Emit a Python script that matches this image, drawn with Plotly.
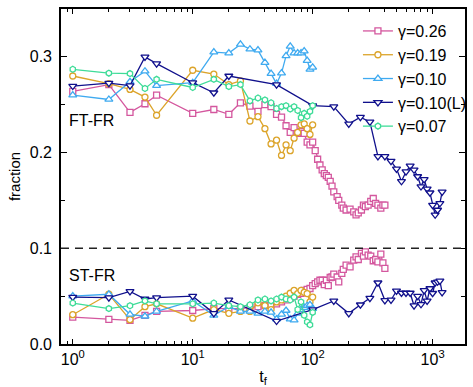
import plotly.graph_objects as go

# ---------------- data ----------------
t_026 = [1, 2, 3, 4, 5, 10, 15, 20, 25, 30, 35, 40, 45, 50, 55, 60, 65, 70, 75, 80, 85, 90, 95, 100,
         105, 110, 115, 120, 125, 130, 135, 140, 145, 150,
         160, 165, 175, 180, 190, 205, 220, 230, 240, 255, 265, 275, 290, 305, 320, 335, 350, 370, 385, 400]
ft_026 = [0.264, 0.271, 0.242, 0.251, 0.260, 0.241, 0.245, 0.240, 0.252, 0.2485, 0.243, 0.250, 0.248, 0.240,
          0.237, 0.228, 0.221, 0.226, 0.220, 0.222, 0.220, 0.211, 0.208, 0.211,
          0.202, 0.193, 0.187, 0.182, 0.178, 0.176, 0.174, 0.170, 0.165, 0.159,
          0.154, 0.150, 0.145, 0.142, 0.140, 0.141, 0.138, 0.135, 0.137, 0.140, 0.145, 0.1435, 0.145, 0.149,
          0.152, 0.147, 0.145, 0.142, 0.145, 0.145]
st_026 = [0.028, 0.0257, 0.0247, 0.030, 0.034, 0.035, 0.037, 0.037, 0.037, 0.038, 0.039, 0.040, 0.041, 0.042,
          0.044, 0.046, 0.048, 0.050, 0.052, 0.053, 0.056, 0.057, 0.058, 0.061,
          0.063, 0.065, 0.0666, 0.0666, 0.062, 0.0666, 0.061, 0.0695, 0.070, 0.073,
          0.070, 0.065, 0.0737, 0.078, 0.0824, 0.0806, 0.0876, 0.091, 0.0883, 0.0946, 0.0918, 0.0963, 0.0929,
          0.0918, 0.087, 0.0883, 0.0858, 0.0939, 0.0848, 0.079]

t_short = [1, 2, 3, 4, 5, 10, 15, 20, 25, 30, 35, 40, 45, 50, 55, 60, 65, 70, 75, 80, 85, 90, 95, 100]
ft_019 = [0.280, 0.272, 0.266, 0.258, 0.239, 0.286, 0.282, 0.271, 0.275, 0.233, 0.2375, 0.225, 0.209, 0.213,
          0.197, 0.208, 0.202, 0.215, 0.221, 0.229, 0.230, 0.225, 0.219, 0.229]
st_019 = [0.0306, 0.052, 0.0254, 0.039, 0.042, 0.027, 0.036, 0.032, 0.034, 0.034, 0.043, 0.040, 0.036, 0.044,
          0.046, 0.050, 0.053, 0.056, 0.0527, 0.056, 0.054, 0.0527, 0.044, 0.049]

ft_010 = [0.260, 0.2555, 0.274, 0.285, 0.270, 0.273, 0.305, 0.304, 0.313, 0.308, 0.307, 0.294, 0.2825, 0.272,
          0.283, 0.301, 0.311, 0.304, 0.304, 0.304, 0.306, 0.296, 0.287, 0.289]
st_010 = [0.050, 0.052, 0.031, 0.029, 0.034, 0.045, 0.030, 0.039, 0.034, 0.034, 0.032, 0.034, 0.033, 0.026,
          0.031, 0.035, 0.026, 0.025, 0.032, 0.036, 0.038, 0.040, 0.041, 0.037]

ft_007 = [0.287, 0.283, 0.2825, 0.267, 0.2765, 0.268, 0.2765, 0.269, 0.271, 0.254, 0.257, 0.255, 0.252, 0.246,
          0.248, 0.249, 0.2455, 0.248, 0.244, 0.2365, 0.241, 0.238, 0.243, 0.249]
st_007 = [0.0428, 0.037, 0.040, 0.045, 0.042, 0.042, 0.0428, 0.040, 0.039, 0.041, 0.046, 0.047, 0.045, 0.047,
          0.049, 0.047, 0.046, 0.049, 0.036, 0.044, 0.030, 0.023, 0.020, 0.033]

t_010L = [1, 2, 3, 4, 5, 10, 15, 20, 50, 100, 150, 200, 250, 300, 350, 400, 450, 500, 550, 600, 650, 700,
          750, 800, 850, 900, 950, 1000, 1050, 1100, 1150, 1200]
ft_010L = [0.2695, 0.2726, 0.270, 0.300, 0.293, 0.273, 0.2625, 0.280, 0.271, 0.249, 0.248, 0.230, 0.237, 0.232,
           0.196, 0.196, 0.191, 0.183, 0.170, 0.180, 0.186, 0.182, 0.175, 0.1645, 0.172, 0.162, 0.158, 0.145,
           0.135, 0.140, 0.147, 0.159]
st_010L = [0.049, 0.0485, 0.055, 0.047, 0.0485, 0.050, 0.032, 0.046, 0.024, 0.036, 0.045, 0.032, 0.041, 0.048,
           0.064, 0.0456, 0.046, 0.0554, 0.0533, 0.0533, 0.0533, 0.040, 0.050, 0.0415, 0.056, 0.045, 0.058,
           0.053, 0.064, 0.065, 0.066, 0.054]

labels = ["\u03b3=0.26", "\u03b3=0.19", "\u03b3=0.10", "\u03b3=0.10(L)", "\u03b3=0.07"]
colors = ["#D4579E", "#DCA42A", "#3FAAF0", "#10108C", "#3EDC98"]
symbols = ["square", "circle", "triangle-up", "triangle-down", "hexagon"]

x_ticks = [1, 10, 100, 1000]
x_ticktext = ["10<sup>0</sup>", "10<sup>1</sup>", "10<sup>2</sup>", "10<sup>3</sup>"]
y_ticks = [0.0, 0.1, 0.2, 0.3]
y_ticktext = ["0.0", "0.1", "0.2", "0.3"]

series = [
    (t_026, ft_026, st_026),
    (t_short, ft_019, st_019),
    (t_short, ft_010, st_010),
    (t_010L, ft_010L, st_010L),
    (t_short, ft_007, st_007),
]

FONT = "Liberation Sans, Arial, sans-serif"

fig = go.Figure()
for (t, ft, st), lab, col, sym in zip(series, labels, colors, symbols):
    xs = list(t) + [None] + list(t)
    ys = list(ft) + [None] + list(st)
    msize = 7 if sym.startswith("triangle") else 6
    fig.add_trace(go.Scatter(
        x=xs, y=ys, name=lab, mode="lines+markers",
        line=dict(color=col, width=1.3),
        marker=dict(symbol=sym, size=msize, color="white", line=dict(color=col, width=1.3)),
        connectgaps=False,
    ))

fig.add_shape(type="line", xref="paper", yref="y", x0=0, x1=1, y0=0.1, y1=0.1,
              line=dict(color="#222222", width=1.5, dash="8px,6px"))

fig.add_annotation(text="FT-FR", xref="paper", yref="y", x=0.016, y=0.233, xanchor="left",
                   showarrow=False, font=dict(size=16, color="black", family=FONT))
fig.add_annotation(text="ST-FR", xref="paper", yref="y", x=0.014, y=0.072, xanchor="left",
                   showarrow=False, font=dict(size=16, color="black", family=FONT))

fig.update_layout(
    width=473, height=387,
    margin=dict(l=61, r=1, t=9, b=43),
    paper_bgcolor="white", plot_bgcolor="white",
    font=dict(family=FONT, size=16, color="black"),
    showlegend=True,
    legend=dict(x=0.735, y=0.985, xanchor="left", yanchor="top", bgcolor="rgba(0,0,0,0)",
                font=dict(size=16, family=FONT), tracegroupgap=0),
)
fig.update_xaxes(
    type="log", range=[-0.098, 3.27],
    tickvals=x_ticks, ticktext=x_ticktext,
    ticks="inside", ticklen=5, tickwidth=1.2, tickcolor="black",
    showline=True, linecolor="black", linewidth=1.6, mirror="ticks",
    showgrid=False, zeroline=False,
    minor=dict(ticks="inside", ticklen=3, tickwidth=1, tickcolor="black", dtick="D1", showgrid=False),
    tickfont=dict(size=16, family=FONT),
    title=dict(text="t<sub>f</sub>", font=dict(size=16, family=FONT), standoff=5),
)
fig.update_yaxes(
    range=[0, 0.35],
    tickvals=y_ticks, ticktext=y_ticktext,
    ticks="inside", ticklen=6, tickwidth=1.2, tickcolor="black",
    showline=True, linecolor="black", linewidth=1.6, mirror="ticks",
    showgrid=False, zeroline=False,
    minor=dict(ticks="inside", ticklen=4, tickwidth=1, tickcolor="black", tickvals=[0.05, 0.15, 0.25], showgrid=False),
    tickfont=dict(size=16, family=FONT),
    ticklabelstandoff=4,
    title=dict(text="fraction", font=dict(size=15, family=FONT), standoff=6),
)

fig.write_html("out.html")
